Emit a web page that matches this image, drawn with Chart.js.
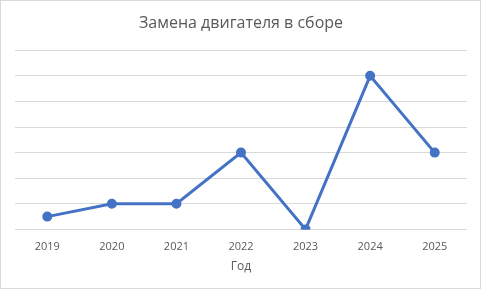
<!DOCTYPE html>
<html><head><meta charset="utf-8">
<script src="https://cdn.jsdelivr.net/npm/chart.js@4"></script>
<style>
html,body{margin:0;padding:0;background:#fff;}
#wrap{width:481px;height:289px;box-sizing:border-box;border:1px solid #d9d9d9;position:relative;}
</style></head><body>
<div id="wrap"><canvas id="c" width="479" height="287"></canvas></div>
<script>
const categories = ['2019','2020','2021','2022','2023','2024','2025'];
const values = [0.5, 1, 1, 3, 0, 6, 3];
const chartTitle = 'Замена двигателя в сборе';
const xTitle = 'Год';

new Chart(document.getElementById('c'), {
  type: 'line',
  data: {
    labels: categories,
    datasets: [{
      data: values,
      borderColor: '#4472C4',
      backgroundColor: '#4472C4',
      borderWidth: 3,
      pointRadius: 3.5,
      pointHoverRadius: 3.5,
      tension: 0
    }]
  },
  options: {
    responsive: false,
    animation: false,
    layout: { padding: { left: 14, right: 13, top: 0, bottom: 10 } },
    plugins: {
      legend: { display: false },
      tooltip: { enabled: false },
      title: {
        display: true, text: chartTitle, color: '#595959',
        font: { family: 'Open Sans', size: 16, weight: 'normal' },
        padding: { top: 13, bottom: 17 }
      }
    },
    scales: {
      x: {
        offset: true,
        grid: { display: false },
        border: { display: false },
        ticks: { color: '#595959', font: { family: 'Open Sans', size: 11 }, padding: 3 },
        title: { display: true, text: xTitle, color: '#595959', font: { family: 'Open Sans', size: 12 }, padding: { top: 3 } }
      },
      y: {
        min: 0, max: 7,
        ticks: { display: false, stepSize: 1 },
        grid: { color: '#d9d9d9', lineWidth: 1, drawTicks: false },
        border: { display: false }
      }
    }
  }
});
</script>
</body></html>
